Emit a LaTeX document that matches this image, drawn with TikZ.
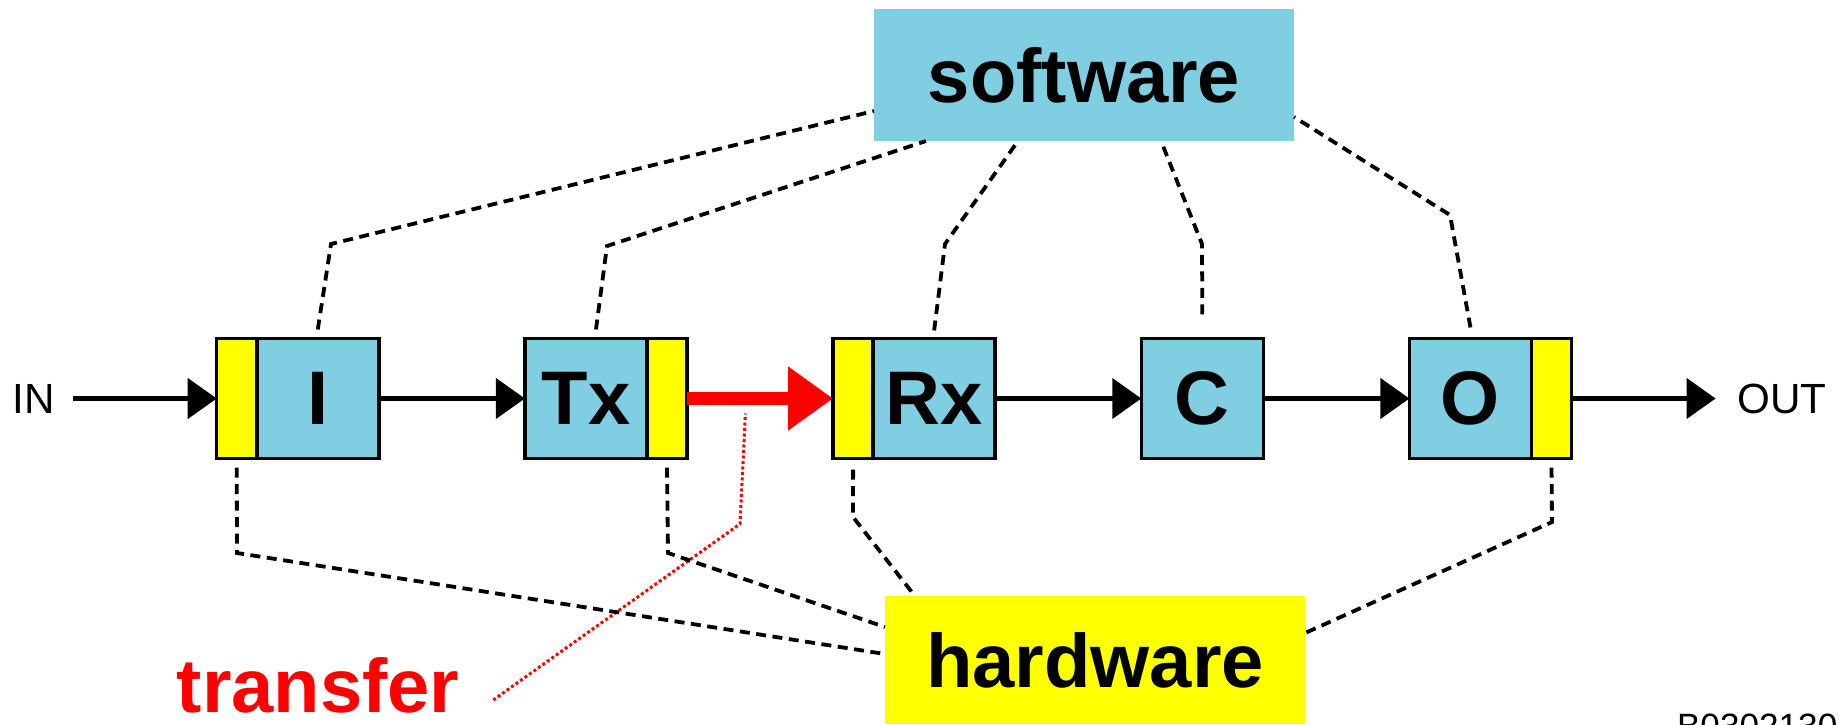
\documentclass[tikz,border=0pt]{standalone}
\usepackage{fontspec}
\setmainfont{Liberation Sans}
\usetikzlibrary{positioning, arrows.meta}

\definecolor{swblue}{RGB}{128,206,226}
\definecolor{hwyellow}{RGB}{255,255,0}
\newcommand{\bigbold}{\fontsize{21.6pt}{26pt}\selectfont\bfseries}
\newcommand{\iotext}{\fontsize{12pt}{14pt}\selectfont}
\newcommand{\codetext}{\fontsize{10pt}{12pt}\selectfont}

\tikzset{
  blk/.style={draw, line width=0.035cm, fill=swblue, minimum width=1.22cm, minimum height=1.20cm, inner sep=0pt, outer sep=0pt, font=\bigbold},
  port/.style={draw, line width=0.035cm, fill=hwyellow, minimum width=0.40cm, minimum height=1.20cm, inner sep=0pt, outer sep=0pt},
  layer/.style={minimum width=4.20cm, inner sep=0pt, outer sep=0pt, font=\bigbold},
  iolabel/.style={inner sep=0pt, outer sep=0pt, font=\iotext},
  note/.style={red, inner sep=0pt, font=\bigbold},
  flow/.style={line width=0.043cm, -{Triangle[length=0.29cm,width=0.40cm]}},
  xfer/.style={red, line width=0.13cm, -{Triangle[length=0.45cm,width=0.61cm]}},
  link/.style={line width=0.038cm, dash pattern=on 0.10cm off 0.065cm},
  pointer/.style={red, line width=0.03cm, dash pattern=on 0.03cm off 0.025cm},
}

\begin{document}
\begin{tikzpicture}[x=0.01cm, y=-0.01cm]
    \useasboundingbox (0,0) rectangle (1839,724);
    \begin{scope}
    \clip (0,0) rectangle (1839,724);

    % Layers
    \node[layer, fill=swblue, minimum height=1.32cm] (software) at (1084,75) {software};
    \node[layer, fill=hwyellow, minimum height=1.28cm] (hardware) at (1095,660) {hardware};

    % Chain of blocks
    \node[port] (Iy) at (236.75,398.5) {};
    \node[blk, right=0cm of Iy] (I) {I};
    \node[blk, right=1.46cm of I] (Tx) {Tx};
    \node[port, right=0cm of Tx] (Txy) {};
    \node[port, right=1.46cm of Txy] (Rxy) {};
    \node[blk, right=0cm of Rxy] (Rx) {Rx};
    \node[blk, right=1.46cm of Rx] (C) {C};
    \node[blk, right=1.46cm of C] (O) {O};
    \node[port, right=0cm of O] (Oy) {};

    % Input and output
    \node[iolabel, left=1.62cm of Iy] (in) {IN};
    \node[iolabel, right=1.66cm of Oy] (out) {OUT};
    \draw[flow, shorten <=0.18cm] (in) -- (Iy);
    \draw[flow, shorten >=0.22cm] (Oy) -- (out);

    % Flow arrows
    \foreach \a/\b in {I/Tx, Rx/C, C/O} {
      \draw[flow] (\a) -- (\b);
    }
    \draw[xfer] (Txy) -- coordinate[pos=0.4] (xmid) (Rxy);

    % Transfer label
    \node[note, anchor=base west] (transfer) at (176,712) {transfer};
    \coordinate (tbend) at (740,524);
    \draw[pointer] ([xshift=0.33cm,yshift=0.12cm]transfer.base east) -- (tbend) -- ([yshift=-0.15cm]xmid);

    % Links to software
    \coordinate (s1) at (331,244);
    \coordinate (s2) at (607,246);
    \coordinate (s3) at (945,244);
    \coordinate (s4) at (1202,244);
    \coordinate (s5) at (1450,215);
    \draw[link] ([yshift=0.09cm]I.north) -- (s1) -- ([yshift=0.30cm]software.south west);
    \draw[link] ([xshift=0.1cm,yshift=0.09cm]Tx.north) -- (s2) -- ([xshift=0.52cm]software.south west);
    \draw[link] ([yshift=0.08cm]Rx.north) -- (s3) -- ([xshift=1.44cm]software.south west);
    \draw[link] ([yshift=0.24cm]C.north) -- (s4) -- ([xshift=2.87cm]software.south west);
    \draw[link] ([yshift=0.11cm]O.north) -- (s5) -- ([yshift=0.24cm]software.south east);

    % Links to hardware
    \coordinate (h1) at (237,553);
    \coordinate (h2) at (668,553);
    \coordinate (h3) at (853,517);
    \coordinate (h4) at (1552,522);
    \draw[link] ([yshift=-0.09cm]Iy.south) -- (h1) -- ([yshift=0.06cm]hardware.west);
    \draw[link] ([yshift=-0.09cm]Txy.south) -- (h2) -- ([yshift=0.33cm]hardware.west);
    \draw[link] ([yshift=-0.11cm]Rxy.south) -- (h3) -- ([xshift=0.30cm]hardware.north west);
    \draw[link] ([yshift=-0.09cm]Oy.south) -- (h4) -- ([yshift=0.27cm]hardware.east);

    % Figure code
    \node[iolabel, font=\codetext, anchor=base west] (code) at (1677,738) {B03021302};
    \end{scope}
\end{tikzpicture}
\end{document}
